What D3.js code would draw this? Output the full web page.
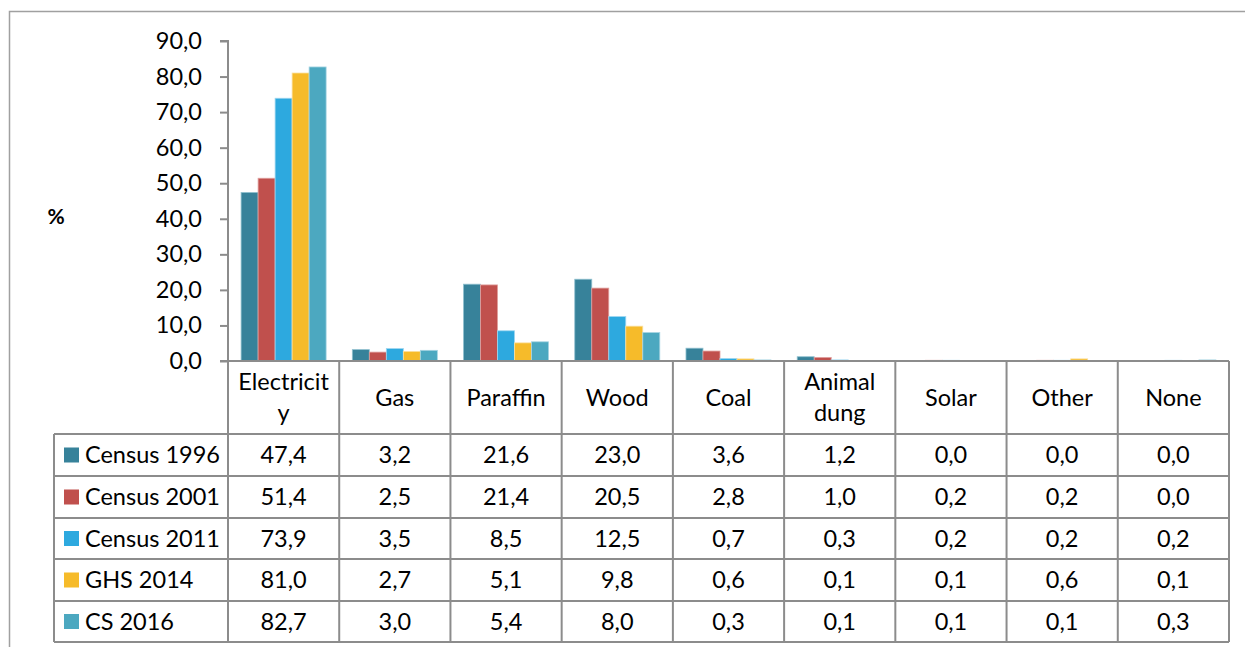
<!DOCTYPE html>
<html><head><meta charset="utf-8">
<script src="https://cdn.jsdelivr.net/npm/d3@7"></script>
<style>
html,body{margin:0;padding:0;background:#fff;}
svg text{font-family:Lato,"Open Sans",sans-serif;fill:#000;}
</style></head>
<body>
<svg id="chart" width="1245" height="647"></svg>
<script>
const categories = ["Electricity","Gas","Paraffin","Wood","Coal","Animal dung","Solar","Other","None"];
const categoryLines = [["Electricit","y"],["Gas"],["Paraffin"],["Wood"],["Coal"],["Animal","dung"],["Solar"],["Other"],["None"]];
const seriesNames = ["Census 1996","Census 2001","Census 2011","GHS 2014","CS 2016"];
const census1996 = [47.4,3.2,21.6,23.0,3.6,1.2,0.0,0.0,0.0];
const census2001 = [51.4,2.5,21.4,20.5,2.8,1.0,0.2,0.2,0.0];
const census2011 = [73.9,3.5,8.5,12.5,0.7,0.3,0.2,0.2,0.2];
const ghs2014    = [81.0,2.7,5.1,9.8,0.6,0.1,0.1,0.6,0.1];
const cs2016     = [82.7,3.0,5.4,8.0,0.3,0.1,0.1,0.1,0.3];
const yTicks = [0,10,20,30,40,50,60,70,80,90];
const colors = ["#37829a","#c0504d","#2da9df","#f6bb2a","#4ca8c0"];
const strokes = ["#8fc0cf","#e0a09e","#9dd6f0","#fbe0a0","#a6d4e2"];

const series = [census1996,census2001,census2011,ghs2014,cs2016];
const svg = d3.select("#chart");
const grid = "#8c8c8c";
const FS = "23.5px";
const fmt = v => v.toFixed(1).replace(".", ",");

// outer frame
svg.append("path").attr("d","M9.5,647 V11.5 H1245").attr("fill","none").attr("stroke","#a0a0a0").attr("stroke-width",1.5);

const plotLeft = 228, plotRight = 1229, plotTop = 41, plotBottom = 361;
const x = d3.scaleBand().domain(categories).range([plotLeft, plotRight]).paddingInner(0).paddingOuter(0);
const xs = d3.scaleBand().domain(seriesNames).range([0, x.bandwidth()]).paddingOuter(0.77).paddingInner(0);
const y = d3.scaleLinear().domain([0,90]).range([plotBottom, plotTop]);

// bars
series.forEach((vals,si)=>{
  svg.append("g").selectAll("rect").data(vals).join("rect")
    .attr("x",(d,i)=>x(categories[i]) + xs(seriesNames[si]))
    .attr("width",xs.bandwidth())
    .attr("y",d=>y(d))
    .attr("height",d=>y(0)-y(d))
    .attr("fill",colors[si])
    .attr("stroke",d=> d>0 ? strokes[si] : "none")
    .attr("stroke-width",0.8);
});

// y axis
const yAxis = d3.axisLeft(y).tickValues(yTicks).tickFormat(fmt).tickSize(8).tickPadding(18);
const ga = svg.append("g").attr("transform",`translate(${plotLeft},0)`).call(yAxis);
ga.select(".domain").attr("stroke",grid).attr("stroke-width",2).attr("d",`M-8,${plotTop}H0V${plotBottom}H-8`);
ga.selectAll(".tick line").attr("stroke",grid).attr("stroke-width",2);
ga.selectAll(".tick text").style("font-family","Lato, sans-serif").style("font-size",FS).attr("fill","#000");

// % label
svg.append("text").attr("x",56).attr("y",224).attr("text-anchor","middle").style("font-size","21px").style("font-weight","bold").text("%");

// table
const headerBottom = 434;
const rowBottoms = [476,518,559,601,642];
const tableLeft = 54;
const lines = svg.append("g").attr("stroke",grid).attr("stroke-width",2).attr("fill","none");
lines.append("line").attr("x1",plotLeft-8).attr("x2",plotRight).attr("y1",plotBottom).attr("y2",plotBottom);
[headerBottom, ...rowBottoms].forEach(yy=>{
  lines.append("line").attr("x1",tableLeft).attr("x2",plotRight).attr("y1",yy).attr("y2",yy);
});
categories.forEach(c=>{
  lines.append("line").attr("x1",x(c)).attr("x2",x(c)).attr("y1",plotBottom).attr("y2",642);
});
lines.append("line").attr("x1",plotRight).attr("x2",plotRight).attr("y1",plotBottom).attr("y2",642);
lines.append("line").attr("x1",tableLeft).attr("x2",tableLeft).attr("y1",headerBottom).attr("y2",642);

// header labels
categories.forEach((c,i)=>{
  const ls = categoryLines[i];
  const cx = x(c) + x.bandwidth()/2;
  const cy = (plotBottom+headerBottom)/2;
  const lh = 31;
  ls.forEach((t,j)=>{
    svg.append("text").attr("x",cx).attr("y",cy + (j-(ls.length-1)/2)*lh).attr("dy","0.35em")
      .attr("text-anchor","middle").style("font-size",FS).text(t);
  });
});

// rows
const rowTops = [headerBottom, ...rowBottoms.slice(0,-1)];
series.forEach((vals,si)=>{
  const cy = (rowTops[si]+rowBottoms[si])/2;
  svg.append("rect").attr("x",64).attr("y",cy-7.5).attr("width",15).attr("height",15).attr("fill",colors[si]);
  svg.append("text").attr("x",85).attr("y",cy).attr("dy","0.35em").style("font-size",FS).text(seriesNames[si]);
  vals.forEach((v,i)=>{
    svg.append("text").attr("x",x(categories[i])+x.bandwidth()/2).attr("y",cy).attr("dy","0.35em")
      .attr("text-anchor","middle").style("font-size",FS).text(fmt(v));
  });
});
</script>
</body></html>
